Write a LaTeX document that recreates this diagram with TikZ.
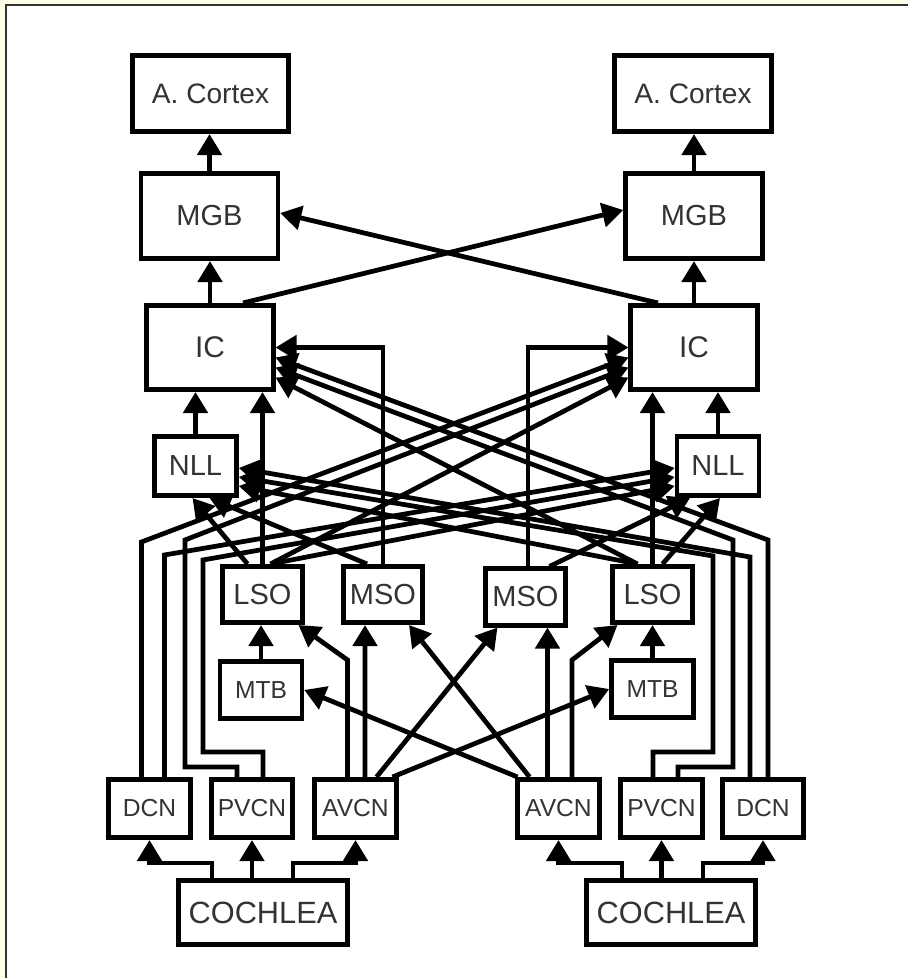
\documentclass[tikz,border=0pt]{standalone}
\usepackage{fontspec}
\setmainfont{Liberation Sans}
\usetikzlibrary{arrows.meta, calc}
\definecolor{panelBg}{RGB}{255,255,232}
\definecolor{panelLine}{RGB}{50,50,50}
\colorlet{boxText}{black!80}

\begin{document}
\begin{tikzpicture}[
  x=0.02cm, y=-0.02cm,
  box/.style={draw, line width=2.6pt, fill=white, inner sep=0pt, text=boxText},
  ctx/.style={box, minimum width=3.13cm, minimum height=1.53cm, font=\fontsize{16}{18}\selectfont},
  mgb/.style={box, minimum width=2.74cm, minimum height=1.71cm, font=\fontsize{16.5}{18}\selectfont},
  ic/.style={box, minimum width=2.53cm, minimum height=1.69cm, font=\fontsize{17}{19}\selectfont},
  nll/.style={box, minimum width=1.64cm, minimum height=1.19cm, font=\fontsize{16.5}{18}\selectfont},
  so/.style={box, minimum width=1.59cm, minimum height=1.13cm, font=\fontsize{16.5}{18}\selectfont},
  mtb/.style={box, minimum width=1.64cm, minimum height=1.13cm, font=\fontsize{14}{16}\selectfont},
  cn/.style={box, minimum width=1.63cm, minimum height=1.17cm, font=\fontsize{14}{16}\selectfont},
  coc/.style={box, minimum width=3.37cm, minimum height=1.29cm, font=\fontsize{17.5}{19}\selectfont},
  arr/.style={line width=2.7pt, -{Triangle[length=0.42cm, width=0.48cm]}},
]
  \useasboundingbox (0,0) rectangle (908,978);
  \fill[panelBg] (0,0) rectangle (908,978);
  \fill[white] (6,5) rectangle (908,978);
  \draw[panelLine, line width=1.6pt] (6,978) |- (908,5);

  % left half
  \node[ctx] (ctxL) at (210.5,93.5) {A. Cortex};
  \node[mgb] (mgbL) at (209.5,216) {MGB};
  \node[ic] (icL) at (210,347.5) {IC};
  \node[nll] (nllL) at (195.5,466) {NLL};
  \node[so] (lsoL) at (262.5,594.5) {LSO};
  \node[so] (msoL) at (383,594.5) {MSO};
  \node[mtb] (mtbL) at (261,690) {MTB};
  \node[cn] (dcnL) at (149.5,808.5) {DCN};
  \node[cn] (pvcnL) at (252,808.5) {PVCN};
  \node[cn] (avcnL) at (355.5,808.5) {AVCN};
  \node[coc] (cocL) at (263,912.5) {COCHLEA};

  % right half
  \node[ctx] (ctxR) at (693,93.5) {A. Cortex};
  \node[mgb] (mgbR) at (694,216) {MGB};
  \node[ic] (icR) at (694,347.5) {IC};
  \node[nll] (nllR) at (718,466) {NLL};
  \node[so] (msoR) at (525.5,597) {MSO};
  \node[so] (lsoR) at (652.5,594.5) {LSO};
  \node[mtb] (mtbR) at (652.5,689) {MTB};
  \node[cn] (avcnR) at (558.5,808.5) {AVCN};
  \node[cn] (pvcnR) at (661.5,808.5) {PVCN};
  \node[cn] (dcnR) at (763,808.5) {DCN};
  \node[coc] (cocR) at (671,912.5) {COCHLEA};

  % thalamus and cortex
  \draw[arr] (mgbL.north) -- (mgbL.north |- ctxL.south);
  \draw[arr] (mgbR.north) -- (mgbR.north |- ctxR.south);
  \draw[arr] (icL.north) -- (icL.north |- mgbL.south);
  \draw[arr] (icR.north) -- (icR.north |- mgbR.south);
  \draw[arr] ($(icL.north)+(33,0)$) -- ($(mgbR.west)+(0,-6)$);
  \draw[arr] ($(icR.north)+(-36,0)$) -- ($(mgbL.east)+(0,-3)$);

  % ipsilateral inputs to IC
  \draw[arr] (nllL.north) -- (nllL.north |- icL.south);
  \draw[arr] (lsoL.north) -- (lsoL.north |- icL.south);
  \draw[arr] (msoL.north) |- (icL.east);
  \draw[arr] (nllR.north) -- (nllR.north |- icR.south);
  \draw[arr] (lsoR.north) -- (lsoR.north |- icR.south);
  \draw[arr] ($(msoR.north)+(2.5,0)$) |- (icR.west);

  % ipsilateral inputs to NLL
  \draw[arr] ($(lsoL.north)+(-15,0)$) -- ($(nllL.south)+(-3,0)$);
  \draw[arr] ($(msoL.north)+(-16,0)$) -- ($(nllL.south)+(14,0)$);
  \draw[arr] ($(msoR.north)+(24,0)$) -- ($(nllR.south)+(-28,0)$);
  \draw[arr] ($(lsoR.north)+(10,0)$) -- ($(nllR.south)+(2,0)$);

  % crossed lines, left to right
  \draw[arr] ($(dcnL.north)+(-8,0)$) -- ++(0,-235) -- ($(icR.west)+(0,10)$);
  \draw[arr] ($(dcnL.north)+(15,0)$) -- ++(0,-222) -- ($(nllR.west)+(0,2)$);
  \draw[arr] ($(pvcnL.north)+(-15,0)$) -- ++(0,-10) -- ++(-52,0) -- ++(0,-227)
    -- ($(icR.west)+(0,20)$);
  \draw[arr] ($(pvcnL.north)+(11,0)$) -- ++(0,-25) -- ++(-60,0) -- ++(0,-192)
    -- ($(nllR.west)+(0,11)$);
  \draw[arr] ($(lsoL.north)+(8,0)$) -- ($(icR.west)+(0,30)$);
  \draw[arr] ($(lsoL.north)+(8,0)$) -- ($(nllR.west)+(0,20)$);

  % crossed lines, right to left
  \draw[arr] ($(dcnR.north)+(5,0)$) -- ++(0,-237) -- ($(icL.east)+(0,10)$);
  \draw[arr] ($(dcnR.north)+(-13,0)$) -- ++(0,-220) -- ($(nllL.east)+(0,2)$);
  \draw[arr] ($(pvcnR.north)+(16.5,0)$) -- ++(0,-10) -- ++(55,0) -- ++(0,-227)
    -- ($(icL.east)+(0,20)$);
  \draw[arr] ($(pvcnR.north)+(-8.5,0)$) -- ++(0,-25) -- ++(60,0) -- ++(0,-196)
    -- ($(nllL.east)+(0,11)$);
  \draw[arr] ($(lsoR.north)+(-15,0)$) -- ($(icL.east)+(0,30)$);
  \draw[arr] ($(lsoR.north)+(-15,0)$) -- ($(nllL.east)+(0,20)$);

  % superior olive
  \draw[arr] (mtbL.north) -- (mtbL.north |- lsoL.south);
  \draw[arr] (mtbR.north) -- (mtbR.north |- lsoR.south);
  \draw[arr] ($(avcnL.north)+(-8,0)$) -- ++(0,-117) -- ($(lsoL.south east)+(-6,0)$);
  \draw[arr] ($(avcnL.north)+(9.5,0)$) -- ($(msoL.south)+(-18,0)$);
  \draw[arr] ($(avcnL.north)+(21,0)$) -- ($(msoR.south west)+(14,0)$);
  \draw[arr] ($(avcnL.north)+(37,0)$) -- (mtbR.west);
  \draw[arr] ($(avcnR.north)+(-29,0)$) -- ($(msoL.south east)+(-16,0)$);
  \draw[arr] ($(avcnR.north)+(-41,0)$) -- (mtbL.east);
  \draw[arr] ($(avcnR.north)+(-11,0)$) -- ($(msoR.south)+(22,0)$);
  \draw[arr] ($(avcnR.north)+(13.5,0)$) -- ++(0,-117) -- ($(lsoR.south west)+(7,0)$);

  % cochlea to nuclei
  \draw[arr] ($(cocL.north)+(-51,0)$) -- ++(0,-15) -| (dcnL.south);
  \draw[arr] (pvcnL.south |- cocL.north) -- (pvcnL.south);
  \draw[arr] ($(cocL.north)+(30,0)$) -- ++(0,-15) -| (avcnL.south);
  \draw[arr] ($(cocR.north)+(-49,0)$) -- ++(0,-15) -| (avcnR.south);
  \draw[arr] (pvcnR.south |- cocR.north) -- (pvcnR.south);
  \draw[arr] ($(cocR.north)+(32,0)$) -- ++(0,-15) -| (dcnR.south);
\end{tikzpicture}
\end{document}
